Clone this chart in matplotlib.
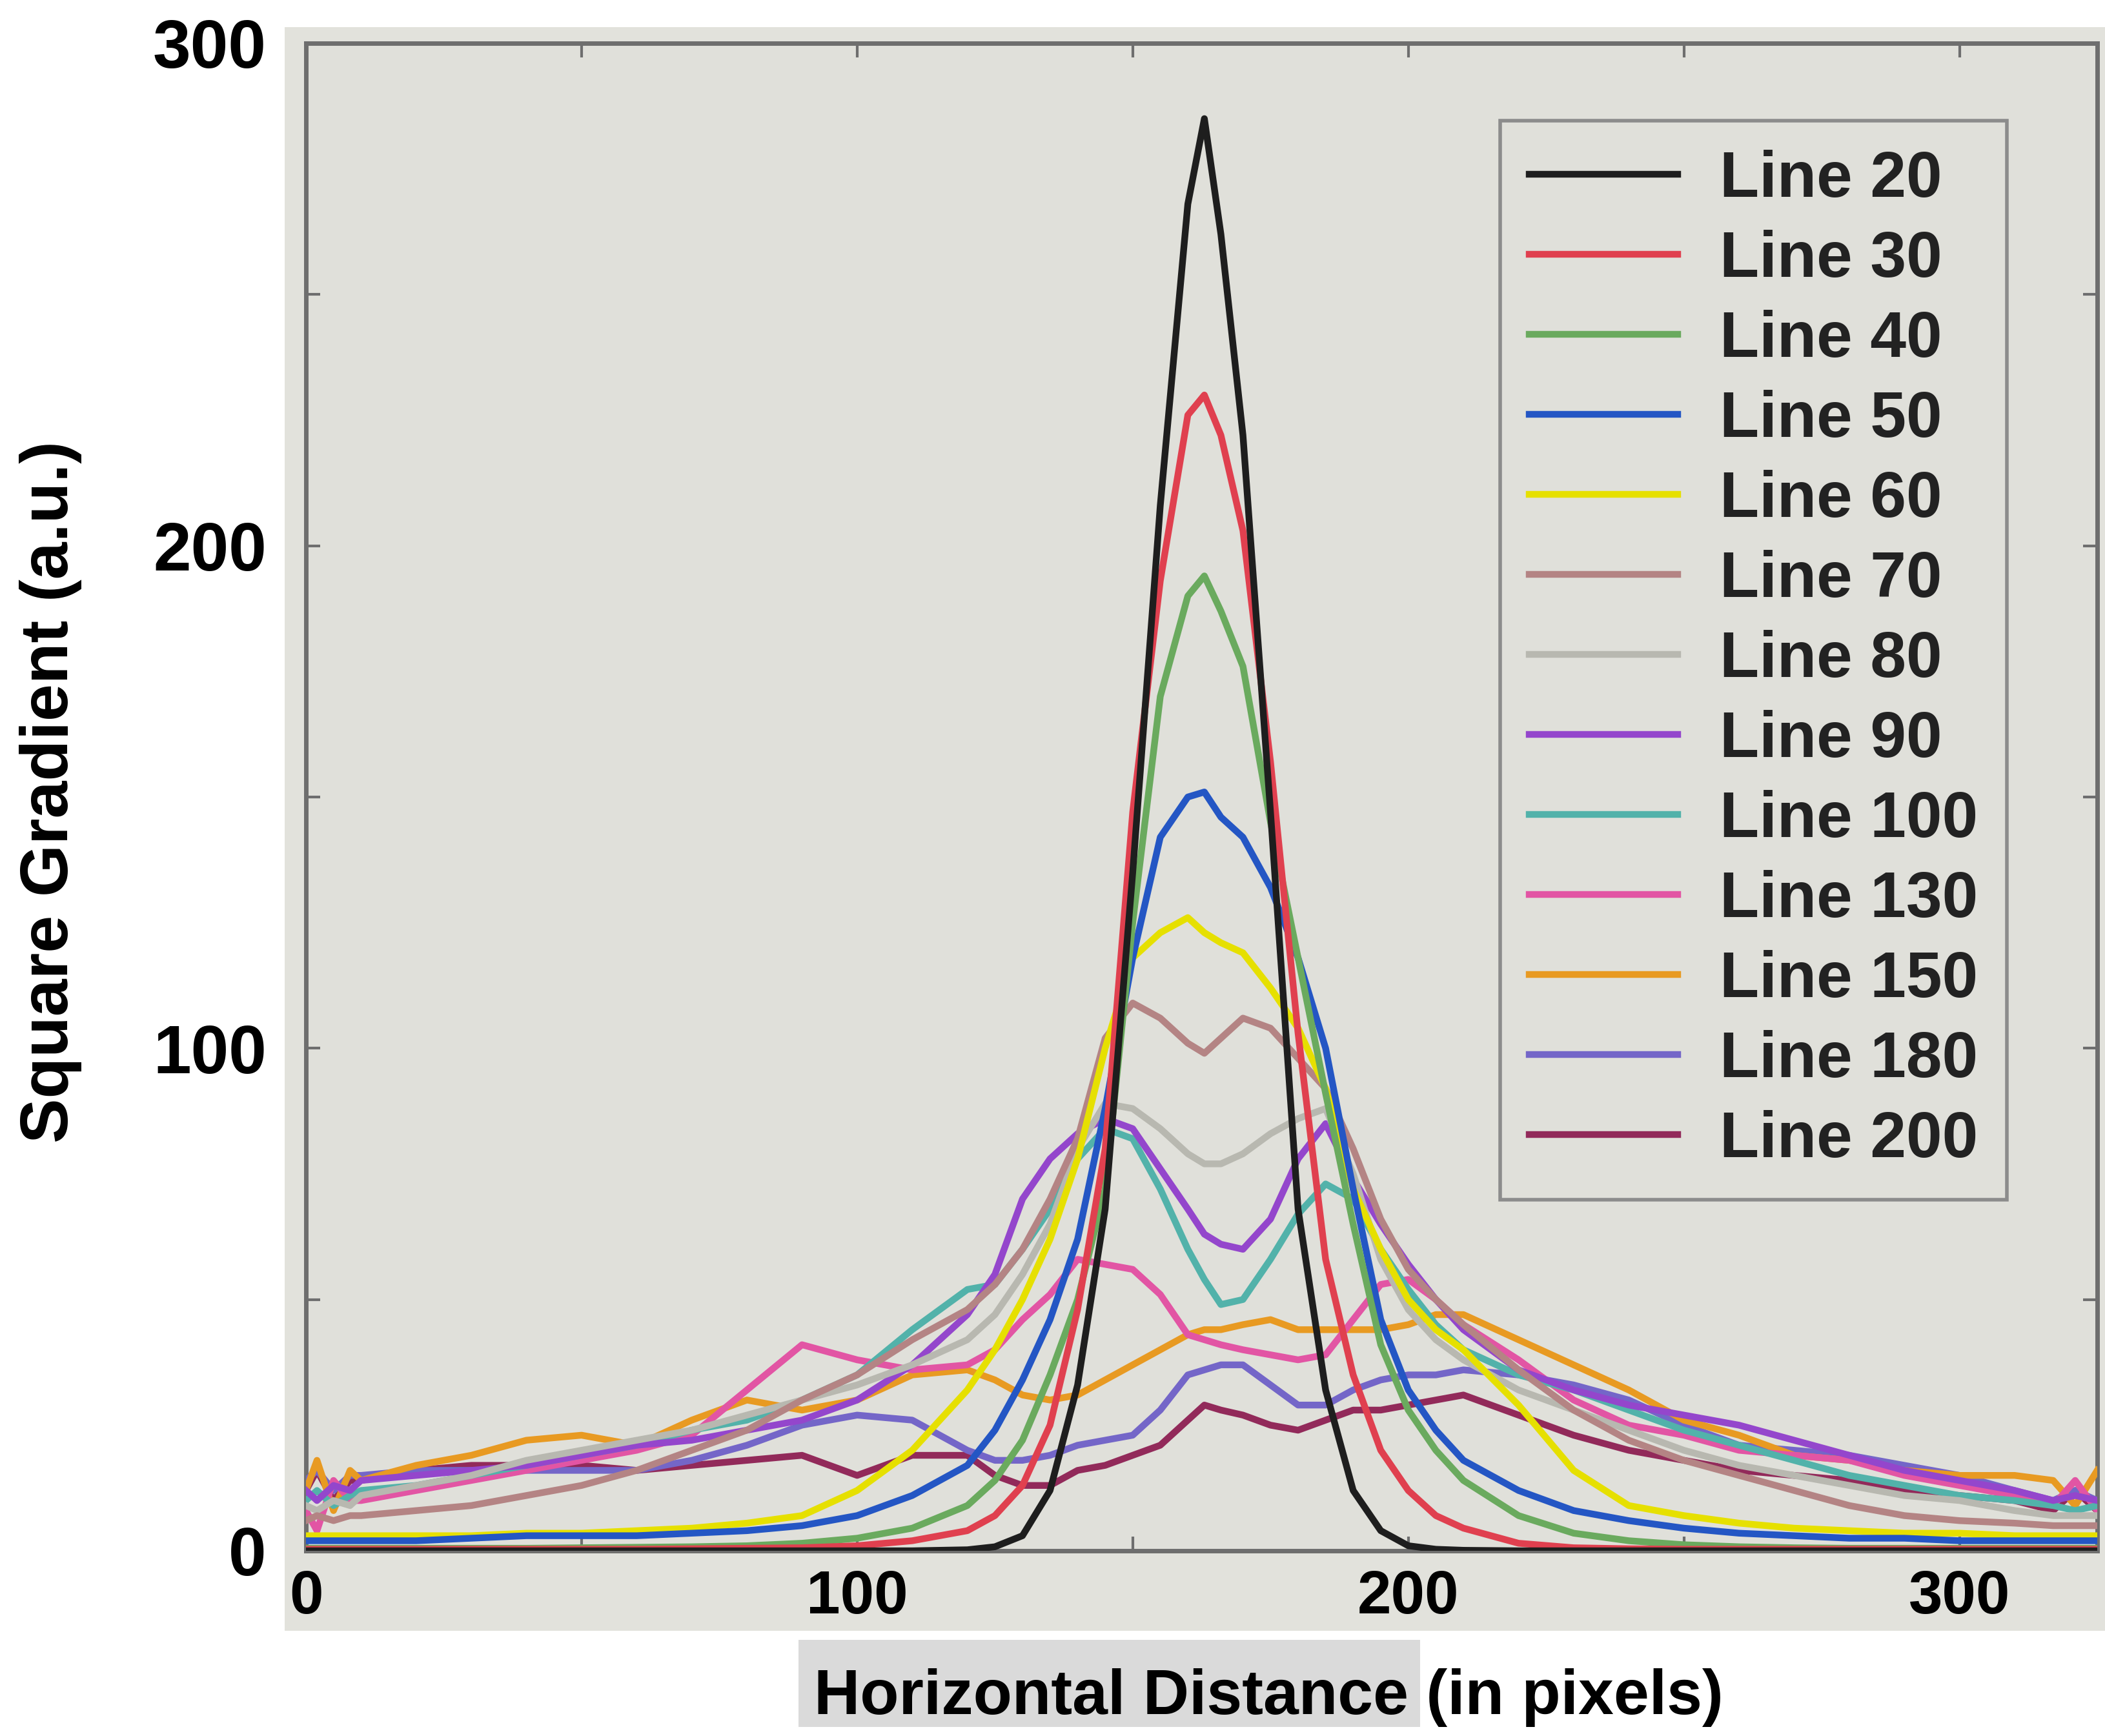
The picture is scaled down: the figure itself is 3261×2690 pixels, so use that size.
import matplotlib
matplotlib.use("Agg")
import matplotlib.pyplot as plt
from matplotlib.patches import Rectangle
from matplotlib.ticker import MultipleLocator


# Horizontal distance (in pixels) shared by every profile
x_px = [0, 2, 5, 8, 10, 20, 30, 40, 50, 60, 70, 80, 90, 100, 110,
        120, 125, 130, 135, 140, 145, 150, 155, 160,
        163, 166, 170, 175, 180, 185, 190, 195, 200, 205, 210,
        220, 230, 240, 250, 260, 270, 280, 290, 300, 310,
        317, 321, 325]

line_names = ["Line 20", "Line 30", "Line 40", "Line 50", "Line 60", "Line 70",
              "Line 80", "Line 90", "Line 100", "Line 130", "Line 150",
              "Line 180", "Line 200"]

line_20 = [0, 0, 0, 0, 0, 0, 0, 0, 0, 0, 0, 0, 0, 0, 0,
           0.2, 0.8, 3, 12, 33, 68, 135, 208, 268,
           285, 262, 222, 147, 68, 32, 12, 4, 1, 0.3, 0.1,
           0, 0, 0, 0, 0, 0, 0, 0, 0, 0,
           0, 0, 0]
line_30 = [0.3, 0.3, 0.3, 0.3, 0.3, 0.3, 0.3, 0.3, 0.3, 0.3, 0.4, 0.5, 0.6, 1, 2,
           4, 7, 13, 25, 48, 80, 147, 193, 226,
           230, 222, 203, 157, 103, 58, 35, 20, 12, 7, 4.5,
           1.5, 0.6, 0.4, 0.3, 0.3, 0.3, 0.3, 0.3, 0.3, 0.3,
           0.3, 0.3, 0.3]
line_40 = [0.5, 0.5, 0.5, 0.5, 0.5, 0.5, 0.5, 0.5, 0.6, 0.7, 0.8, 1, 1.5, 2.5, 4.5,
           9, 14, 22, 35, 50, 72, 125, 170, 190,
           194, 187, 176, 145, 118, 91, 65, 41, 28, 20, 14,
           7, 3.5, 2, 1.2, 0.8, 0.6, 0.5, 0.5, 0.5, 0.5,
           0.5, 0.5, 0.5]
line_50 = [2, 2, 2, 2, 2, 2, 2.5, 3, 3, 3, 3.5, 4, 5, 7, 11,
           17, 24, 34, 46, 62, 88, 118, 142, 150,
           151, 146, 142, 132, 118, 100, 72, 46, 32, 24, 18,
           12, 8, 6, 4.5, 3.5, 3, 2.5, 2.5, 2, 2,
           2, 2, 2]
line_60 = [3, 3, 3, 3, 3, 3, 3, 3.5, 3.5, 4, 4.5, 5.5, 7, 12, 20,
           32, 40, 50, 62, 78, 100, 118, 123, 126,
           123, 121, 119, 112, 104, 92, 72, 60, 50, 44, 40,
           29, 16, 9, 7, 5.5, 4.5, 4, 3.5, 3.5, 3,
           3, 3, 3]
line_70 = [6, 7, 6, 7, 7, 8, 9, 11, 13, 16, 20, 24, 30, 35, 42,
           48, 53, 60, 70, 82, 102, 109, 106, 101,
           99, 102, 106, 104, 98, 92, 80, 66, 56, 50, 45,
           36, 28, 22, 18, 15, 12, 9, 7, 6, 5.5,
           5, 5, 5]
line_80 = [9, 8, 10, 9, 11, 13, 15, 18, 20, 22, 24, 27, 30, 33, 37,
           42, 47, 55, 65, 80, 89, 88, 84, 79,
           77, 77, 79, 83, 86, 88, 75, 58, 48, 42, 38,
           32, 28, 24, 20, 17, 15, 13, 11, 10, 8,
           7, 7, 7]
line_90 = [12, 10, 13, 12, 14, 15, 16, 17, 19, 21, 22, 24, 26, 30, 37,
           47, 55, 70, 78, 83, 86, 84, 76, 68,
           63, 61, 60, 66, 78, 85, 74, 65, 57, 50, 44,
           36, 32, 29, 27, 25, 22, 19, 16, 14, 12,
           10, 11, 10]
line_100 = [10, 12, 9, 11, 12, 13, 15, 17, 19, 21, 24, 26, 30, 35, 44,
            52, 53, 60, 68, 78, 84, 82, 72, 60,
            54, 49, 50, 58, 67, 73, 70, 60, 52, 45, 40,
            35, 32, 28, 24, 21, 18, 15, 13, 11, 10,
            9, 8, 9]
line_130 = [8, 4, 14, 10, 10, 12, 14, 16, 18, 20, 23, 32, 41, 38, 36,
            37, 40, 46, 51, 58, 57, 56, 51, 43,
            42, 41, 40, 39, 38, 39, 46, 53, 54, 50, 45,
            38, 30, 25, 23, 20, 19, 18, 15, 13, 11,
            9, 14, 8]
line_150 = [12, 18, 8, 16, 14, 17, 19, 22, 23, 21, 26, 30, 28, 30, 35,
            36, 34, 31, 30, 31, 34, 37, 40, 43,
            44, 44, 45, 46, 44, 44, 44, 44, 45, 47, 47,
            42, 37, 32, 26, 23, 19, 18, 16, 15, 15,
            14, 9, 16]
line_180 = [14, 16, 12, 15, 15, 16, 16, 16, 16, 16, 18, 21, 25, 27, 26,
            20, 18, 18, 19, 21, 22, 23, 28, 35,
            36, 37, 37, 33, 29, 29, 32, 34, 35, 35, 36,
            35, 33, 30, 25, 21, 20, 19, 17, 15, 12,
            10, 12, 10]
line_200 = [12, 16, 10, 14, 14, 16, 17, 17, 17, 16, 17, 18, 19, 15, 19,
            19, 15, 13, 13, 16, 17, 19, 21, 26,
            29, 28, 27, 25, 24, 26, 28, 28, 29, 30, 31,
            27, 23, 20, 18, 16, 15, 14, 12, 11, 10,
            8, 12, 8]

all_lines = [line_20, line_30, line_40, line_50, line_60, line_70, line_80,
             line_90, line_100, line_130, line_150, line_180, line_200]

# One colour per line, in legend order
line_colors = ["#1e1e1e", "#e0404f", "#6aaa5e", "#2456c4", "#e6e000", "#b48484",
               "#b8b8b0", "#9446cc", "#52b2aa", "#e255a4", "#e89a22",
               "#7466c8", "#922a5a"]

FONT = "Liberation Sans"
W, H = 3261, 2690

fig = plt.figure(figsize=(W / 100, H / 100), dpi=100)
fig.patch.set_facecolor("white")

# Grey scanned-page panel behind the plot and the x tick labels
fig.patches.append(Rectangle((441 / W, 1 - 2527 / H), 1 - 441 / W, (2527 - 42) / H,
                             transform=fig.transFigure, facecolor="#e2e2dc",
                             edgecolor="none", zorder=-2))
# Highlight behind "Horizontal Distance"
fig.patches.append(Rectangle((1237 / W, 1 - 2676 / H), (2200 - 1237) / W, (2676 - 2541) / H,
                             transform=fig.transFigure, facecolor="#dadada",
                             edgecolor="none", zorder=-1))

ax = fig.add_axes([474 / W, 1 - 2403 / H, (3249 - 474) / W, (2403 - 67) / H])
ax.set_facecolor("#e0e0da")

handles = []
n = len(all_lines)
for i, (name, vals, col) in enumerate(zip(line_names, all_lines, line_colors)):
    ln, = ax.plot(x_px, vals, color=col, lw=7.5, label=name, zorder=3 + n - i,
                  solid_joinstyle="round")
    handles.append(ln)

ax.set_xlim(0, 325)
ax.set_ylim(0, 300)
ax.xaxis.set_major_locator(MultipleLocator(100))
ax.xaxis.set_minor_locator(MultipleLocator(50))
ax.yaxis.set_major_locator(MultipleLocator(100))
ax.yaxis.set_minor_locator(MultipleLocator(50))

for s in ax.spines.values():
    s.set_color("#6e6e6e")
    s.set_linewidth(5)

ax.tick_params(which="both", direction="in", top=True, right=True,
               length=16, width=3, color="#6e6e6e")
ax.tick_params(axis="x", which="major", pad=20, labelsize=68)
ax.tick_params(axis="y", which="major", pad=44, labelsize=76)
for lab in ax.get_xticklabels() + ax.get_yticklabels():
    lab.set_fontfamily(FONT)
    lab.set_fontweight("bold")

fig.text(1965 / W, 1 - 2631 / H, "Horizontal Distance (in pixels)", ha="center",
         va="center", fontsize=71, fontweight="bold", family=FONT)
fig.text(79 / W, 1 - 1227 / H, "Square Gradient (a.u.)", ha="center", va="center",
         rotation=90, fontsize=75, fontweight="bold", family=FONT)

leg = ax.legend(handles=handles, loc="upper right", bbox_to_anchor=(0.9495, 0.9486),
                borderaxespad=0,
                prop={"family": FONT, "weight": "bold", "size": 72},
                frameon=True, fancybox=False, edgecolor="#8c8c8c",
                facecolor="#e0e0da", framealpha=1, handlelength=2.3,
                handletextpad=0.65, labelspacing=0.3, borderpad=0.45)
leg.get_frame().set_linewidth(4)
leg.set_zorder(20)
for t in leg.get_texts():
    t.set_color("#222222")

fig.savefig("out.png", dpi=100)
plt.close(fig)
